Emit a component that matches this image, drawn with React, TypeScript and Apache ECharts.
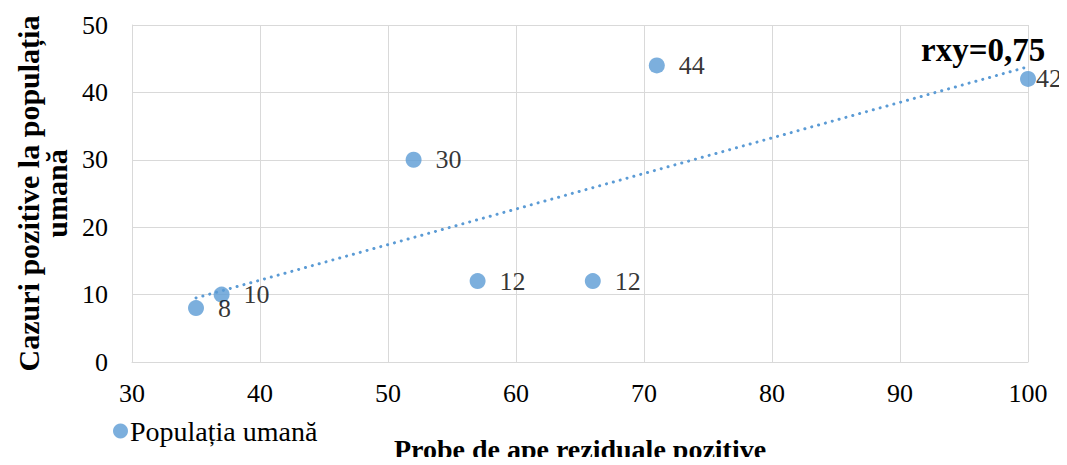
import React, { useEffect, useRef } from "react";
import * as echarts from "echarts";

const xValues = [35, 37, 52, 57, 66, 71, 100];
const yValues = [8, 10, 30, 12, 12, 44, 42];
const trendX = [35, 100];
const trendY = [9.5, 43.8];
const seriesName = "Populația umană";
const xTitle = "Probe de ape reziduale pozitive";
const yTitle = "Cazuri pozitive la populația\numană";
const rLabel = "rxy=0,75";

const FONT = "Liberation Serif, Times New Roman, serif";

export default function App() {
  const ref = useRef<HTMLDivElement>(null);
  useEffect(() => {
    const chart = echarts.init(ref.current!, null, { renderer: "svg" });
    const pts = xValues.map((x, i) => {
      const item: any = { value: [x, yValues[i]] };
      if (i === xValues.length - 1) item.label = { distance: 0 };
      return item;
    });
    chart.setOption({
      animation: false,
      backgroundColor: "#fff",
      grid: { left: 132, right: 39, top: 25, bottom: 103, outerBoundsMode: "none", containLabel: false },
      xAxis: {
        type: "value",
        min: 30,
        max: 100,
        interval: 10,
        name: xTitle,
        nameLocation: "middle",
        nameGap: 73,
        nameTextStyle: { fontFamily: FONT, fontSize: 28, fontWeight: "bold", color: "#000" },
        axisLine: { lineStyle: { color: "#d9d9d9" } },
        axisTick: { show: false },
        splitLine: { lineStyle: { color: "#d9d9d9" } },
        axisLabel: { fontFamily: FONT, fontSize: 26, color: "#000", margin: 18 },
      },
      yAxis: {
        type: "value",
        min: 0,
        max: 50,
        interval: 10,
        name: yTitle,
        nameLocation: "middle",
        nameRotate: 90,
        nameGap: 62,
        nameTextStyle: { fontFamily: FONT, fontSize: 30, fontWeight: "bold", color: "#000", align: "center", lineHeight: 28 },
        axisLine: { show: true, lineStyle: { color: "#d9d9d9" } },
        axisTick: { show: false },
        splitLine: { lineStyle: { color: "#d9d9d9" } },
        axisLabel: { fontFamily: FONT, fontSize: 26, color: "#000", margin: 24 },
      },
      legend: {
        data: [seriesName],
        left: 108,
        top: 412,
        itemWidth: 15,
        itemHeight: 15,
        itemGap: 4,
        textStyle: { fontFamily: FONT, fontSize: 28, color: "#000", padding: [0, 0, 0, -3] },
      },
      graphic: [
        {
          type: "text",
          left: 921,
          top: 33,
          style: { text: rLabel, fontFamily: FONT, fontSize: 33, fontWeight: "bold", fill: "#000" },
          z: 10,
        },
      ],
      series: [
        {
          name: "trend",
          type: "line",
          data: trendX.map((x, i) => [x, trendY[i]]),
          showSymbol: false,
          symbol: "none",
          lineStyle: { color: "#5b9bd5", width: 3, type: [0.1, 7], cap: "round" },
          z: 1,
        },
        {
          name: seriesName,
          type: "scatter",
          data: pts,
          symbolSize: 16,
          itemStyle: { color: "#5b9bd5" },
          label: {
            show: true,
            position: "right",
            distance: 14,
            formatter: (p: any) => String(p.value[1]),
            fontFamily: FONT,
            fontSize: 26,
            color: "#000",
          },
          z: 3,
        },
      ],
    });
    return () => chart.dispose();
  }, []);
  return <div ref={ref} style={{ width: 1067, height: 465, margin: -8 }} />;
}
